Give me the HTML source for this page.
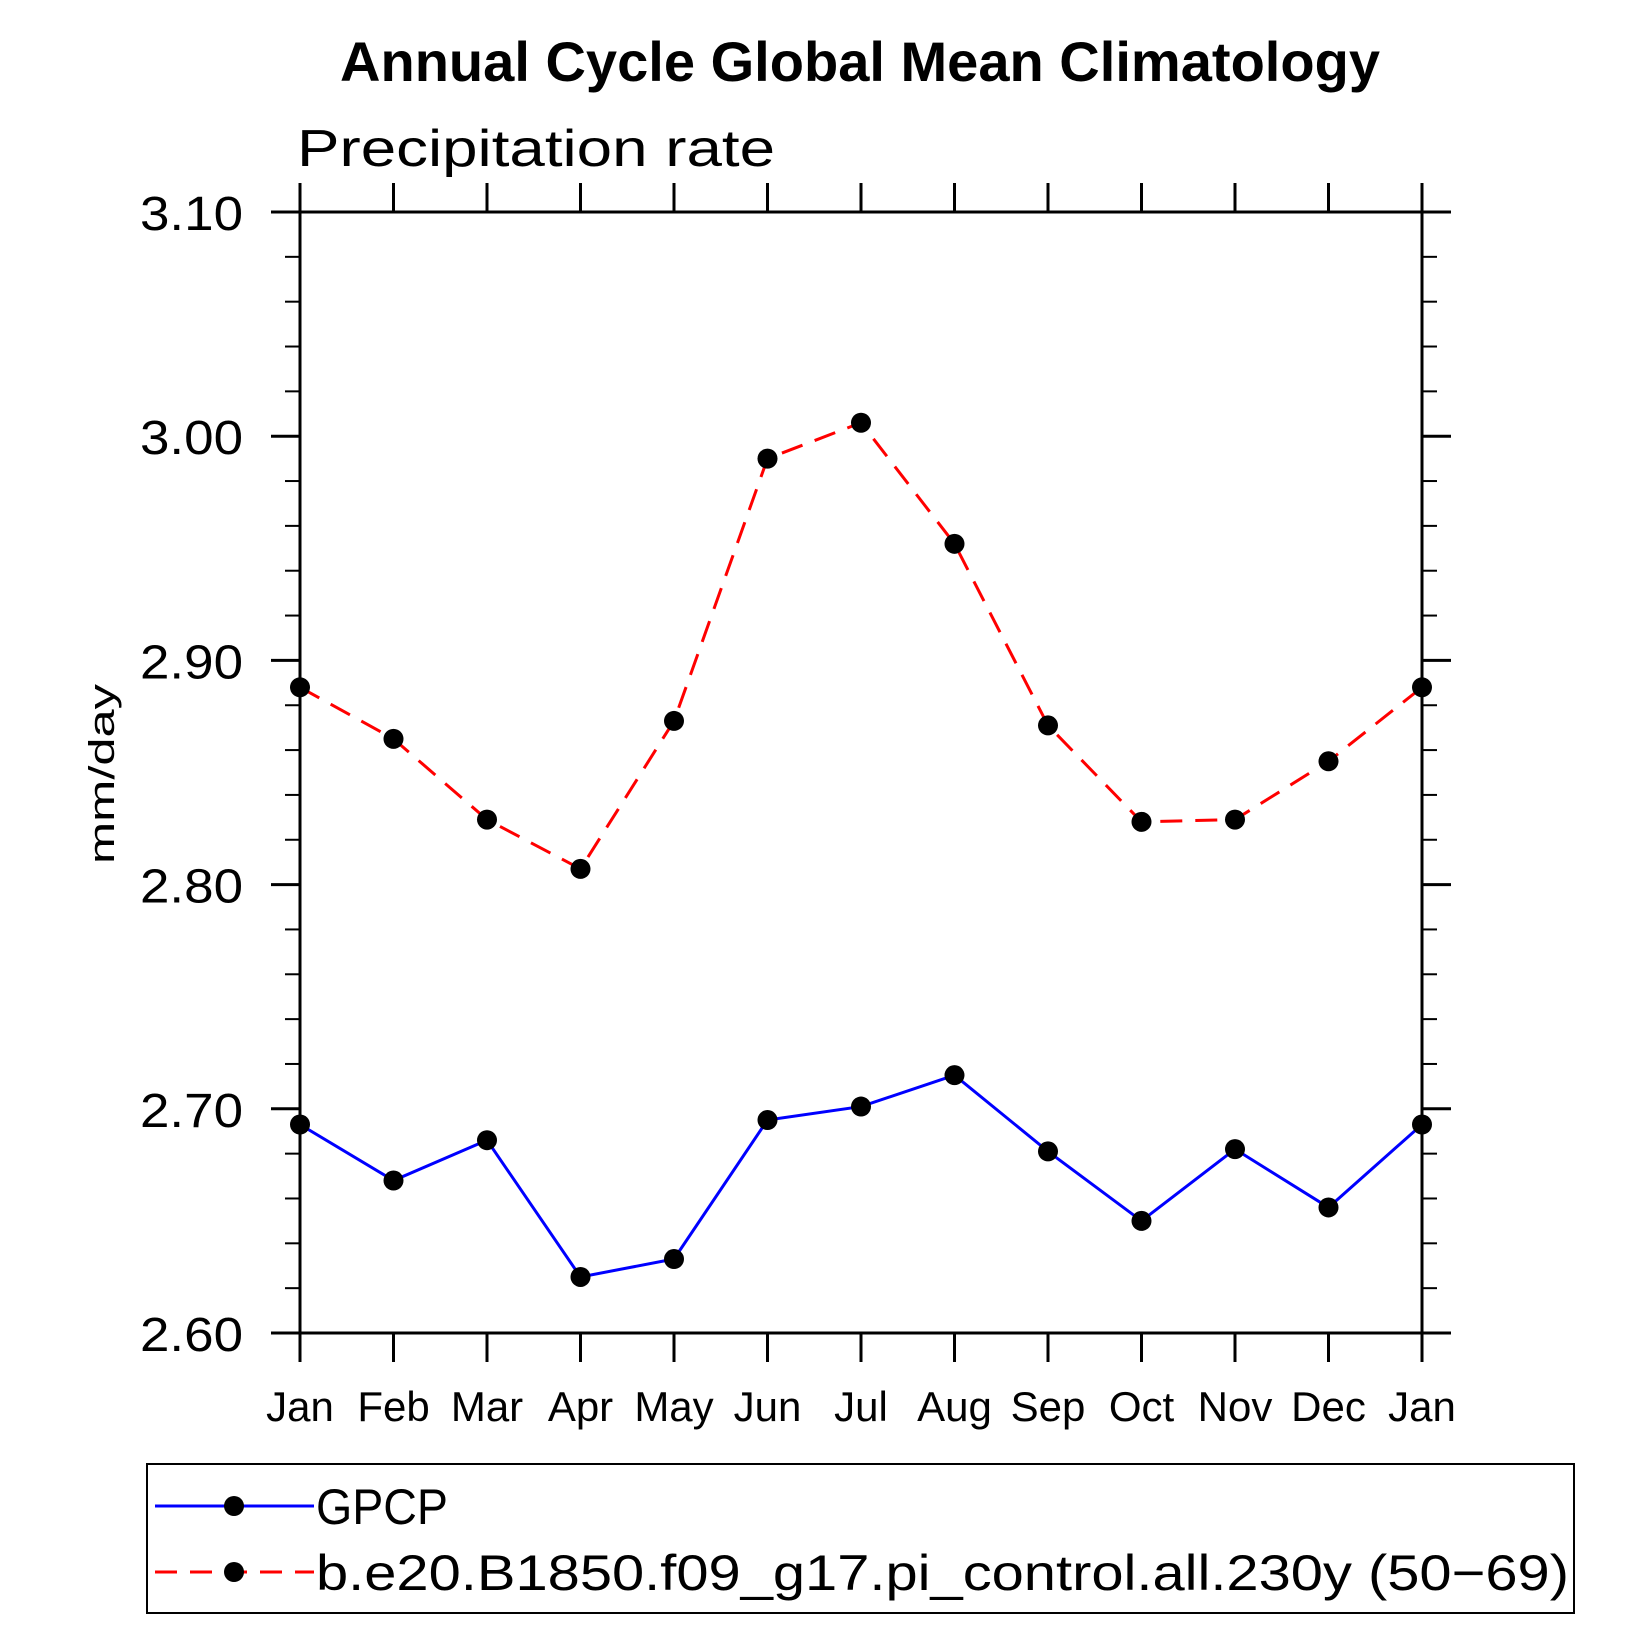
<!DOCTYPE html>
<html><head><meta charset="utf-8"><style>
html,body{margin:0;padding:0;background:#fff;}
svg{display:block;font-family:"Liberation Sans",sans-serif;}
</style></head><body>
<svg id="chart" width="1652" height="1652" xmlns="http://www.w3.org/2000/svg">
<text x="860" y="81" text-anchor="middle" font-size="56" font-weight="bold" textLength="1040" lengthAdjust="spacingAndGlyphs">Annual Cycle Global Mean Climatology</text>
<text x="297" y="166" font-size="52" textLength="478" lengthAdjust="spacingAndGlyphs">Precipitation rate</text>
<text x="0" y="0" font-size="36" text-anchor="middle" transform="translate(114,774) rotate(-90)" textLength="180" lengthAdjust="spacingAndGlyphs">mm/day</text>
<g id="axes"></g>
<g id="series"></g>
<rect x="147" y="1464" width="1427" height="149" fill="none" stroke="#000" stroke-width="2"/>
<g id="legend"></g>
</svg>
<script>
const months = ["Jan","Feb","Mar","Apr","May","Jun","Jul","Aug","Sep","Oct","Nov","Dec","Jan"];
const gpcp = [2.693,2.668,2.686,2.625,2.633,2.695,2.701,2.715,2.681,2.650,2.682,2.656,2.693];
const model = [2.888,2.865,2.829,2.807,2.873,2.990,3.006,2.952,2.871,2.828,2.829,2.855,2.888];
const yTicks = [2.60,2.70,2.80,2.90,3.00,3.10];
const yTickLabels = ["2.60","2.70","2.80","2.90","3.00","3.10"];
const seriesNames = ["GPCP","b.e20.B1850.f09_g17.pi_control.all.230y (50\u221269)"];

const NS="http://www.w3.org/2000/svg";
const L=300,R=1422,T=212,B=1333,yMin=2.6,yMax=3.1;
const xs=i=>L+(R-L)*i/(months.length-1);
const ys=v=>B-(v-yMin)/(yMax-yMin)*(B-T);
function mk(tag,attrs,parent){const e=document.createElementNS(NS,tag);for(const k in attrs)e.setAttribute(k,attrs[k]);parent.appendChild(e);return e;}
const axes=document.getElementById('axes');
let e=mk('rect',{x:L,y:T,width:R-L,height:B-T,fill:'none',stroke:'#000','stroke-width':3},axes);


months.forEach((m,i)=>{
  const x=xs(i);
  let t=mk('line',{x1:x,x2:x,y1:B,y2:B+29,stroke:'#000','stroke-width':3},axes);
  
  
  t=mk('line',{x1:x,x2:x,y1:T,y2:T-29,stroke:'#000','stroke-width':3},axes);
  
  
  const lb=mk('text',{x:x,y:1421,'text-anchor':'middle','font-size':42},axes);
  lb.textContent=m;
  
  
});
for(let v=2.6;v<=3.1001;v+=0.02){
  const y=ys(v);
  const major=Math.abs(Math.round(v*10)-v*10)<1e-6;
  const len=major?29:15;
  let t=mk('line',{x1:L-len,x2:L,y1:y,y2:y,stroke:'#000','stroke-width':major?3:2},axes);
  
  
  t=mk('line',{x1:R,x2:R+len,y1:y,y2:y,stroke:'#000','stroke-width':major?3:2},axes);
  
  
}
yTicks.forEach((v,i)=>{
  const lb=mk('text',{x:243,y:ys(v)+18,'text-anchor':'end','font-size':48,textLength:103,lengthAdjust:'spacingAndGlyphs'},axes);
  lb.textContent=yTickLabels[i];
  
  
});
const ser=document.getElementById('series');
function drawSeries(vals,color,dash,name){
  const g=mk('g',{},ser);
  
  
  const pts=vals.map((v,i)=>xs(i)+','+ys(v)).join(' ');
  const pl=mk('polyline',{points:pts,fill:'none',stroke:color,'stroke-width':3,'stroke-dasharray':dash},g);
  
  
  vals.forEach((v,i)=>{
    const c=mk('circle',{cx:xs(i),cy:ys(v),r:10,fill:'#000'},g);
    
    
  });
}
drawSeries(model,'#ff0000','22 13','model-series');
drawSeries(gpcp,'#0000ff','none','gpcp-series');
const leg=document.getElementById('legend');
[[1506,'#0000ff','none',1524,330],[1572,'#ff0000','22 13',1590,1253]].forEach((r,i)=>{
  const g=mk('g',{},leg);
  
  
  mk('line',{x1:155,x2:314,y1:r[0],y2:r[0],stroke:r[1],'stroke-width':3,'stroke-dasharray':r[2]},g);
  mk('circle',{cx:234,cy:r[0],r:10,fill:'#000'},g);
  const t=mk('text',{x:316,y:r[3],'font-size':50},g);
  if(i===0){t.setAttribute('textLength',132);t.setAttribute('lengthAdjust','spacingAndGlyphs');}
  else{t.setAttribute('textLength',1253);t.setAttribute('lengthAdjust','spacingAndGlyphs');}
  t.textContent=seriesNames[i];
  
  
});
</script>
</body></html>
